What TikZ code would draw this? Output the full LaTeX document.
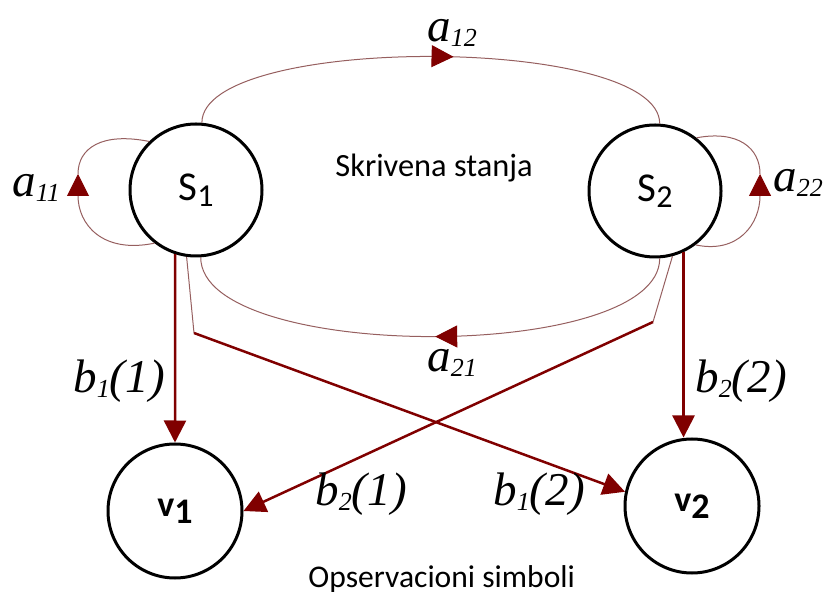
\documentclass[tikz,border=0pt]{standalone}
\usepackage{fontspec}
\setmainfont{Liberation Serif}
\setsansfont{Carlito}
\usetikzlibrary{arrows.meta,decorations.markings}
\definecolor{arrred}{RGB}{128,0,0}
\definecolor{arcred}{RGB}{150,95,95}
\newcommand{\lbl}[3]{{\fontsize{23.5}{24}\selectfont\itshape #1\raisebox{-2.5pt}{\fontsize{13}{13}\selectfont #2}#3}}
\newcommand{\stlbl}[2]{{\fontsize{20.5}{20}\selectfont #1\raisebox{-3pt}{\fontsize{16}{16}\selectfont #2}}}
\newcommand{\vlbl}[2]{{\fontsize{18}{18}\selectfont\bfseries #1\raisebox{-3.5pt}{#2}}}
\begin{document}
\begin{tikzpicture}[x=0.5pt,y=-0.5pt,
  st/.style={circle,draw=black,line width=1.5pt,minimum size=66pt,inner sep=0pt,font=\sffamily},
  ob/.style={circle,draw=black,line width=1.5pt,minimum size=67pt,inner sep=0pt,font=\sffamily},
  arcline/.style={draw=arcred,line width=0.5pt},
  arctip/.style={arcline,-{Triangle[length=11pt,width=11pt,color=arrred]}},
  emis/.style={draw=arrred,line width=1.25pt,-{Triangle[length=11pt,width=11pt,color=arrred]}},
  midarrow/.style={postaction={decorate},decoration={markings,mark=at position #1 with {\arrow{Triangle[length=11pt,width=11pt,color=arrred]}}}},
  lab/.style={anchor=base west,inner sep=0pt},
  captext/.style={anchor=base west,inner sep=0pt,font=\sffamily\fontsize{16.2}{17}\selectfont}
]
\path[use as bounding box] (0,0) rectangle (829,592);

\node[st] (S1) at (196,190) {\stlbl{S}{1}};
\node[st] (S2) at (655,191) {\stlbl{S}{2}};
\node[ob] (v1) at (175,511) {\vlbl{v}{1}};
\node[ob] (v2) at (692,506) {\vlbl{v}{2}};

% transitions between hidden states
\draw[arcline,midarrow=0.545] (S1.85) .. controls +(0,-89) and +(0,-89) .. (S2.86);
\draw[arcline,midarrow=0.49] (S2.-86) .. controls +(0,105) and +(0,105) .. (S1.-86);
\coordinate (m11) at (78,174);
\coordinate (m22) at (760,174);
\draw[arctip] (S1.232) .. controls (102,254) and (78,224) .. (m11);
\draw[arcline] (m11) .. controls (78,148) and (102,132) .. (S1.134);
\draw[arctip] (S2.-53) .. controls (738,254) and (760,224) .. (m22);
\draw[arcline] (m22) .. controls (760,148) and (738,130) .. (S2.52);

% emissions
\draw[emis] (S1.-108) -- (v1.north);
\draw[emis] (S2.-65) -- (S2.-65 |- v2.north);
\coordinate (k1) at (194,333);
\coordinate (k2) at (653,322);
\draw[arcline] (S1.-98) -- (k1);
\draw[emis] (k1) -- (v2.168);
\draw[arcline] (S2.-75) -- (k2);
\draw[emis] (k2) -- (v1.east);

% labels
\node[lab] (la11) at (12,197) {\lbl{a}{11}{}};
\node[lab] (la12) at (427,42) {\lbl{a}{12}{}};
\node[lab] (la21) at (427,372) {\lbl{a}{21}{}};
\node[lab] (la22) at (773,192) {\lbl{a}{22}{}};
\node[lab] (lb11) at (73,393) {\lbl{b}{1}{(1)}};
\node[lab] (lb22) at (695,393) {\lbl{b}{2}{(2)}};
\node[lab] (lb21) at (315,505) {\lbl{b}{2}{(1)}};
\node[lab] (lb12) at (493,505) {\lbl{b}{1}{(2)}};

\node[captext] (hid) at (335,177) {Skrivena stanja};
\node[captext,font=\sffamily\fontsize{15.8}{17}\selectfont] (obs) at (308,587) {Opservacioni simboli};
\end{tikzpicture}
\end{document}
